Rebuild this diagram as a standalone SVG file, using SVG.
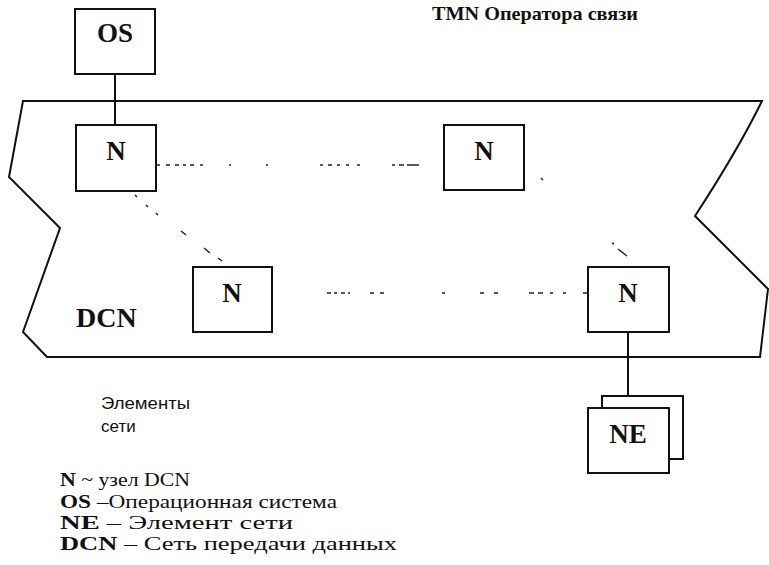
<svg xmlns="http://www.w3.org/2000/svg" width="769" height="565" viewBox="0 0 769 565">
<style>
.box{fill:#fff;stroke:#111;stroke-width:2}
.lbl{font-family:"Liberation Serif","Times New Roman",serif;font-weight:bold;font-size:27px;fill:#111;text-anchor:middle}
.dcn{fill:none;stroke:#111;stroke-width:2;stroke-linejoin:miter}
.line{stroke:#111;stroke-width:2;fill:none}
.dots{stroke:#222;stroke-width:1.5;fill:none}
.leg{font-family:"Liberation Serif","Times New Roman",serif;font-size:19px;fill:#111}
.legb{font-weight:bold}
.sans{font-family:"Liberation Sans",Arial,sans-serif;font-size:17px;fill:#111}
</style>
<rect width="769" height="565" fill="#fff"/>
<g id="dcn-cloud">
<path class="dcn" d="M23,101 L762,101 Q738,150 695,216 L768,289 L760,357 L47,357 L23,332 L60,228 L9,177 Z"/>
<text x="76" y="327" style="font-family:'Liberation Serif','Times New Roman',serif;font-weight:bold;font-size:28px;fill:#111">DCN</text>
</g>
<g id="connectors">
<line class="line" x1="115" y1="74" x2="115" y2="125"/>
<line class="line" x1="628" y1="332" x2="628" y2="408"/>
<path class="dots" d="M157,165h3M166,165h4M175,165h4M183,165h3M190,165h4M200,165h3M229,165h2M266,165h2M320,165h3M328,165h4M337,165h3M346,165h3M357,165h3M392,165h3M399,165h5M407,165h12"/>
<path class="dots" d="M327,293h4M334,293h3M341,293h4M348,293h2M370,293h4M380,293h4M442,293h3M480,293h4M494,293h4M529,293h5M538,293h5M550,293h3M563,293h3M583,293h4"/>
<path class="dots" d="M135,195l2,2M146,205l2,2M156,213l2,2M181,231l5,4M204,248l6,5M218,258l4,3"/>
<path class="dots" d="M541,178l2,2M612,243l2,1M618,249l9,7"/>
</g>
<g id="os">
<rect class="box" x="75" y="9" width="80" height="65"/>
<text class="lbl" x="115" y="42">OS</text>
</g>
<g id="n1">
<rect class="box" x="76" y="125" width="80" height="66"/>
<text class="lbl" x="116" y="160">N</text>
</g>
<g id="n2">
<rect class="box" x="444" y="125" width="80" height="65"/>
<text class="lbl" x="484" y="160">N</text>
</g>
<g id="n3">
<rect class="box" x="193" y="267" width="79" height="65"/>
<text class="lbl" x="232" y="302">N</text>
</g>
<g id="n4">
<rect class="box" x="588" y="267" width="81" height="65"/>
<text class="lbl" x="628" y="302">N</text>
</g>
<g id="ne">
<rect class="box" x="602" y="396" width="81" height="63"/>
<rect class="box" x="588" y="408" width="81" height="65"/>
<text class="lbl" x="628" y="443">NE</text>
</g>
<g id="title">
<text x="432" y="20" textLength="206" lengthAdjust="spacingAndGlyphs" style="font-family:'Liberation Serif','Times New Roman',serif;font-weight:bold;font-size:19px;fill:#111">TMN Оператора связи</text>
</g>
<g id="legend">
<text class="sans" x="101" y="409" textLength="89" lengthAdjust="spacingAndGlyphs">Элементы</text>
<text class="sans" x="101" y="432">сети</text>
<text class="leg" x="60" y="486" textLength="130" lengthAdjust="spacingAndGlyphs"><tspan class="legb">N</tspan> ~ узел DCN</text>
<text class="leg" x="60" y="508" textLength="277" lengthAdjust="spacingAndGlyphs"><tspan class="legb">OS</tspan> –Операционная система</text>
<text class="leg" x="60" y="529" textLength="233" lengthAdjust="spacingAndGlyphs"><tspan class="legb">NE</tspan> – Элемент сети</text>
<text class="leg" x="60" y="550" textLength="337" lengthAdjust="spacingAndGlyphs"><tspan class="legb">DCN</tspan> – Сеть передачи данных</text>
</g>
</svg>
